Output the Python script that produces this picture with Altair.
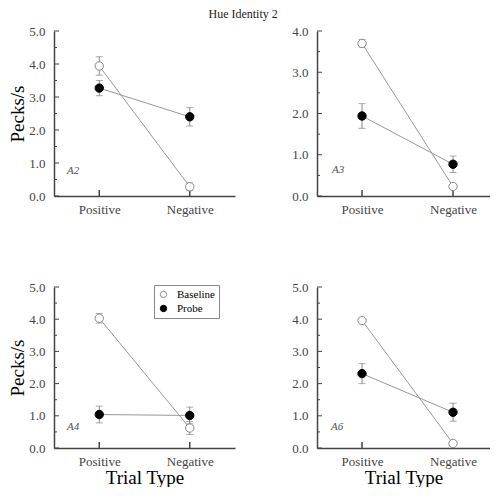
import altair as alt
import pandas as pd

# ---- data ----
trial_types = ["Positive", "Negative"]
series_names = ["Baseline", "Probe"]
panels = ["A2", "A3", "A4", "A6"]
y_max = {"A2": 5, "A3": 4, "A4": 5, "A6": 5}

baseline_mean = {"A2": [3.94, 0.28], "A3": [3.70, 0.23], "A4": [4.03, 0.62], "A6": [3.96, 0.14]}
baseline_err = {"A2": [0.28, 0.12], "A3": [0.09, 0.04], "A4": [0.15, 0.20], "A6": [0.03, 0.03]}
probe_mean = {"A2": [3.27, 2.40], "A3": [1.94, 0.77], "A4": [1.04, 1.01], "A6": [2.31, 1.11]}
probe_err = {"A2": [0.23, 0.28], "A3": [0.30, 0.20], "A4": [0.26, 0.26], "A6": [0.31, 0.28]}

# annotation label pixel offsets inside each plot (x, baseline y)
label_pos = {"A2": (13, 143), "A3": (15, 142), "A4": (13, 143), "A6": (14, 143)}

FONT = "Liberation Serif"
W_LEFT = 181
W_RIGHT = 173
H_TOP = 165
H_BOT = 161


def panel(name, width, height, show_ytitle, show_xtitle, show_legend, pad, align):
    rows = []
    for s, means, errs in (("Baseline", baseline_mean[name], baseline_err[name]),
                           ("Probe", probe_mean[name], probe_err[name])):
        for t, m, e in zip(trial_types, means, errs):
            rows.append({"trial": t, "series": s, "mean": m, "lo": m - e, "hi": m + e})
    df = pd.DataFrame(rows)
    caps = pd.concat([
        df[["trial", "series", "lo"]].rename(columns={"lo": "v"}),
        df[["trial", "series", "hi"]].rename(columns={"hi": "v"}),
    ])
    ymax = y_max[name]
    major = [float(v) for v in range(0, ymax + 1)]
    minor = [v + 0.5 for v in range(0, ymax)]

    xscale = alt.Scale(type="point", domain=trial_types, padding=pad, align=align)
    yscale = alt.Scale(domain=[0, ymax], nice=False, zero=True)
    xaxis = alt.Axis(title="Trial Type" if show_xtitle else None, ticks=False, grid=False,
                     labelAngle=0, labelPadding=7, titlePadding=0,
                     labelFont=FONT, labelFontSize=13, labelColor="#444444",
                     titleFont=FONT, titleFontSize=19, titleFontWeight="normal", titleColor="black",
                     domainColor="#444444", domainWidth=1.5)
    yaxis = alt.Axis(title="Pecks/s" if show_ytitle else None, ticks=False, grid=False,
                     values=major, format=".1f", labelPadding=9, titlePadding=1.5,
                     labelFont=FONT, labelFontSize=13, labelColor="#444444",
                     titleFont=FONT, titleFontSize=19, titleFontWeight="normal", titleColor="black",
                     domainColor="#444444", domainWidth=1.5)

    def X(field="trial"):
        return alt.X(f"{field}:N", scale=xscale, axis=xaxis, sort=trial_types)

    def Y(field):
        return alt.Y(f"{field}:Q", scale=yscale, axis=yaxis)

    base = alt.Chart(df)
    lines = base.mark_line(color="#999999", strokeWidth=1).encode(
        x=X(), y=Y("mean"), detail="series:N")
    bars = base.mark_rule(color="#888888", strokeWidth=1).encode(
        x=X(), y=Y("lo"), y2="hi:Q")
    capm = alt.Chart(caps).mark_tick(color="#888888", size=7, thickness=1).encode(
        x=X(), y=Y("v"))

    leg = None
    if show_legend:
        leg = alt.Legend(title=None, orient="none", legendX=100, legendY=-2,
                         strokeColor="#888888", padding=4, labelFont=FONT,
                         labelFontSize=11, labelColor="black", symbolSize=40,
                         rowPadding=2, symbolStrokeWidth=1, labelOffset=8)
    points = base.mark_point(shape="circle", size=70, opacity=1, strokeWidth=1, filled=False).encode(
        x=X(), y=Y("mean"),
        fill=alt.Fill("series:N", scale=alt.Scale(domain=series_names, range=["white", "black"]), legend=leg),
        stroke=alt.Stroke("series:N", scale=alt.Scale(domain=series_names, range=["#888888", "black"]), legend=leg),
    )

    ytick_major = alt.Chart(pd.DataFrame({"v": major})).mark_rule(color="#444444", strokeWidth=1).encode(
        y=Y("v"), x=alt.value(0), x2=alt.value(5))
    ytick_minor = alt.Chart(pd.DataFrame({"v": minor})).mark_rule(color="#444444", strokeWidth=1).encode(
        y=Y("v"), x=alt.value(0), x2=alt.value(3))
    xticks = alt.Chart(pd.DataFrame({"trial": trial_types})).mark_rule(color="#444444", strokeWidth=1.5).encode(
        x=X(), y=alt.value(height - 6), y2=alt.value(height))

    lx, ly = label_pos[name]
    ann = alt.Chart(pd.DataFrame({"t": [name]})).mark_text(
        font=FONT, fontSize=11, fontStyle="italic", color="#555555", align="left",
        baseline="alphabetic").encode(text="t:N", x=alt.value(lx), y=alt.value(ly))

    return alt.layer(ytick_major, ytick_minor, xticks, lines, bars, capm, points, ann).properties(
        width=width, height=height)


chart = alt.concat(
    panel("A2", W_LEFT, H_TOP, True, False, False, 0.5, 0.5),
    panel("A3", W_RIGHT, H_TOP, False, False, False, 0.4505, 0.549),
    panel("A4", W_LEFT, H_BOT, True, True, True, 0.5, 0.5),
    panel("A6", W_RIGHT, H_BOT, False, True, False, 0.4505, 0.549),
    columns=2, spacing=alt.RowColnumber(row=91, column=82), bounds="flush",
).resolve_scale(
    fill="independent", stroke="independent").resolve_legend(
    fill="independent", stroke="independent").properties(
    title=alt.Title("Hue Identity 2", font=FONT, fontSize=12, fontWeight="normal",
                    color="#222222", anchor="middle", offset=4, dx=-6),
    padding={"left": 0, "top": 0, "right": 0, "bottom": 0},
).configure(font=FONT).configure_view(stroke=None).configure_axis(
    labelFont=FONT, titleFont=FONT).configure_legend(labelFont=FONT)

chart.save("out.html", embed_options={"renderer": "svg", "actions": False})
